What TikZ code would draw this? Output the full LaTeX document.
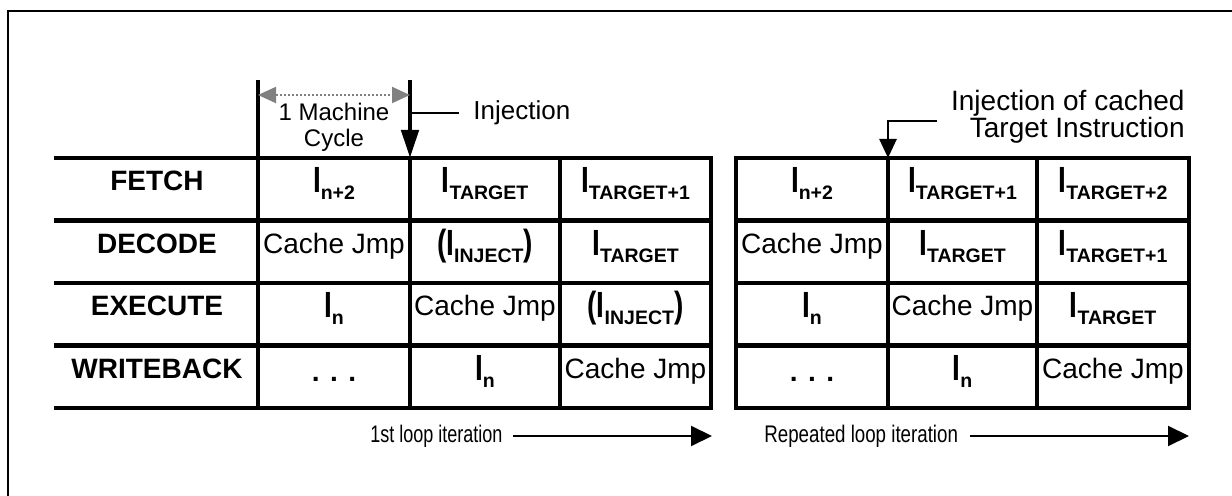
\documentclass[tikz,border=0pt]{standalone}
\usepackage{fontspec}
\setmainfont{Liberation Sans}
\usetikzlibrary{arrows.meta}

\newcommand{\tallI}[1]{\scalebox{1}[1.3]{\textbf{#1}}}
\newcommand{\Isub}[1]{\tallI{I}\raisebox{-3.5pt}{\fontsize{9.75}{10}\selectfont\bfseries #1}}
\newcommand{\Iinj}{\tallI{(I}\raisebox{-3.5pt}{\fontsize{9.75}{10}\selectfont\bfseries INJECT}\tallI{)}}

\tikzset{
  grid/.style={line width=2.3pt, line cap=rect},
  frame/.style={line width=1.4pt},
  cell/.style={anchor=base, inner sep=0pt, font=\fontsize{14}{16}\selectfont},
  stage/.style={cell, font=\fontsize{14}{16}\selectfont\bfseries},
  note/.style={font=\fontsize{13}{13}\selectfont, inner sep=0pt},
  injarrow/.style={grid, -{Triangle[length=14pt,width=8.5pt]}},
  cachearrow/.style={line width=1.3pt, -{Triangle[length=9.5pt,width=8.5pt]}},
  looparrow/.style={line width=1pt, -{Triangle[length=10.5pt,width=10pt]}},
  dimline/.style={gray, line width=1pt, densely dotted,
    {Triangle[length=9pt,width=8pt,fill=gray]}-{Triangle[length=9pt,width=8pt,fill=gray]}},
}

\begin{document}
\begin{tikzpicture}[x=0.5pt,y=-0.5pt]
	\useasboundingbox (0,0) rectangle (1232,496);
	\draw[frame] (8,500) -- (8,11) -- (1240,11);

	% first loop iteration
	\foreach \y in {158,220.5,283,345.5,408}
		\draw[grid] (56,\y) -- (711,\y);
	\coordinate (c1top) at (258,82);
	\coordinate (c2top) at (410,82);
	\coordinate (c2in) at (410,158);
	\draw[grid] (c1top) -- (258,408);
	\draw[injarrow] (c2top) -- (c2in);
	\draw[grid] (c2in) -- (410,408);
	\draw[grid] (560,158) -- (560,408);
	\draw[grid] (711,158) -- (711,408);

	\draw[dimline] ([yshift=-6.5pt]c1top) -- ([yshift=-6.5pt]c2top);
	\node[note, align=center, font=\fontsize{12}{13}\selectfont] (cycle) at (334,127) {1 Machine\\Cycle};
	\node[note, anchor=west, inner xsep=7pt] (inj) at (459,113) {Injection};
	\draw[cachearrow, -] (inj.west) -- (inj.west -| c2top);

	\node[stage] (fetch) at (157,191) {FETCH};
	\node[stage] (decode) at (157,253.5) {DECODE};
	\node[stage] (execute) at (157,316) {EXECUTE};
	\node[stage] (writeback) at (157,378.5) {WRITEBACK};

	\node[cell] (l11) at (334,193) {\Isub{n+2}};
	\node[cell] (l12) at (485,193) {\Isub{TARGET}};
	\node[cell] (l13) at (635.5,193) {\Isub{TARGET+1}};
	\node[cell] (l21) at (334,253.5) {Cache Jmp};
	\node[cell] (l22) at (485,255.5) {\Iinj};
	\node[cell] (l23) at (635.5,255.5) {\Isub{TARGET}};
	\node[cell] (l31) at (334,318) {\Isub{n}};
	\node[cell] (l32) at (485,316) {Cache Jmp};
	\node[cell] (l33) at (635.5,318) {\Iinj};
	\node[cell] (l41) at (334,382) {\textbf{. . .}};
	\node[cell] (l42) at (485,380.5) {\Isub{n}};
	\node[cell] (l43) at (635.5,378.5) {Cache Jmp};

	% repeated loop iteration
	\draw[grid] (736,158) rectangle (1189,408);
	\foreach \y in {220.5,283,345.5}
		\draw[grid] (736,\y) -- (1189,\y);
	\coordinate (c5in) at (888,158);
	\draw[grid] (c5in) -- (888,408);
	\draw[grid] (1037,158) -- (1037,408);

	\node[note, anchor=east, align=right, font=\fontsize{14}{13.5}\selectfont] (injc) at (1185,117) {Injection of cached\\Target Instruction};
	\coordinate (injcend) at (937,121);
	\draw[cachearrow] (injcend) -- (injcend -| c5in) -- (c5in);

	\node[cell] (r11) at (812,193) {\Isub{n+2}};
	\node[cell] (r12) at (962.5,193) {\Isub{TARGET+1}};
	\node[cell] (r13) at (1113,193) {\Isub{TARGET+2}};
	\node[cell] (r21) at (812,253.5) {Cache Jmp};
	\node[cell] (r22) at (962.5,255.5) {\Isub{TARGET}};
	\node[cell] (r23) at (1113,255.5) {\Isub{TARGET+1}};
	\node[cell] (r31) at (812,318) {\Isub{n}};
	\node[cell] (r32) at (962.5,316) {Cache Jmp};
	\node[cell] (r33) at (1113,318) {\Isub{TARGET}};
	\node[cell] (r41) at (812,382) {\textbf{. . .}};
	\node[cell] (r42) at (962.5,380.5) {\Isub{n}};
	\node[cell] (r43) at (1113,378.5) {Cache Jmp};

	% iteration arrows
	\node[note, anchor=west, inner xsep=5pt, font=\fontsize{12}{13}\selectfont] (iter1) at (360,436) {\scalebox{0.75}[1]{1st loop iteration}};
	\coordinate (iter1end) at (712,436);
	\draw[looparrow] (iter1.east) -- (iter1end);
	\node[note, anchor=west, inner xsep=6pt, font=\fontsize{12}{13}\selectfont] (iter2) at (752,436) {\scalebox{0.78}[1]{Repeated loop iteration}};
	\coordinate (iter2end) at (1189,436);
	\draw[looparrow] (iter2.east) -- (iter2end);
\end{tikzpicture}
\end{document}
